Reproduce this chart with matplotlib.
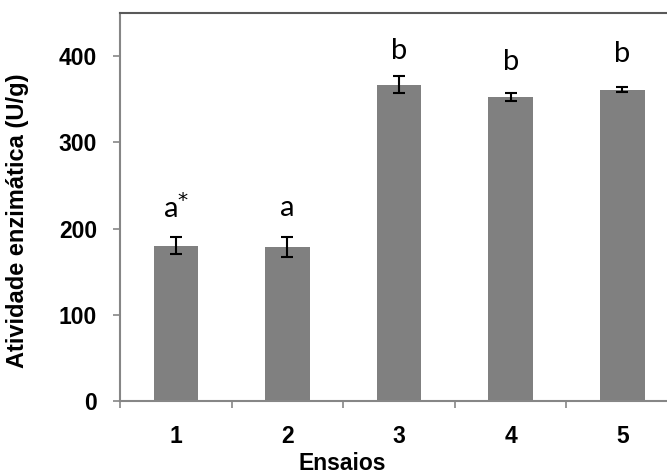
import numpy as np
import matplotlib
matplotlib.use("Agg")
import matplotlib.pyplot as plt
from matplotlib.ticker import FixedLocator

ensaios = ["1", "2", "3", "4", "5"]
atividade = [180, 178.5, 367, 353, 361]
erro = [10, 12, 10, 4.5, 3]
letras = ["a$^{*}$", "a", "b", "b", "b"]
letra_y = [224, 224, 406, 393, 402]

fig = plt.figure(figsize=(6.67, 4.74), dpi=100)
ax = fig.add_axes([0.18, 0.154, 0.8366, 0.8186])

x = np.arange(1, len(ensaios) + 1)
ax.bar(x, atividade, width=0.4, color="#808080", zorder=2)
ax.errorbar(x, atividade, yerr=erro, fmt="none", ecolor="black",
            elinewidth=1.5, capsize=4.3, capthick=1.5, zorder=3)

for xi, lab, yl in zip(x, letras, letra_y):
    ax.text(xi, yl, lab, ha="center", va="center", fontsize=21,
            family="Lato", color="black")

ax.set_xlim(0.5, 5.5)
ax.set_ylim(0, 450)

# ticks nas fronteiras das categorias, rótulos no centro
ax.xaxis.set_major_locator(FixedLocator(np.arange(0.5, 6.0, 1.0)))
ax.xaxis.set_major_formatter(plt.NullFormatter())
ax.xaxis.set_minor_locator(FixedLocator(x))
ax.set_xticklabels(ensaios, minor=True)
ax.tick_params(axis="x", which="minor", length=0, pad=17,
               labelsize=16.5)
ax.tick_params(axis="x", which="major", length=5, width=1.2,
               color="#868686", direction="out")
for t in ax.get_xticklabels(minor=True):
    t.set_fontweight("bold")
    t.set_family("Liberation Sans")

ax.set_yticks([0, 100, 200, 300, 400])
ax.tick_params(axis="y", length=5, width=1.2, color="#868686",
               direction="out", pad=11.5, labelsize=16.5)
for t in ax.get_yticklabels():
    t.set_fontweight("bold")
    t.set_family("Liberation Sans")

ax.set_xlabel("Ensaios", fontsize=16.5, fontweight="bold", family="Liberation Sans")
ax.set_ylabel("Atividade enzimática (U/g)", fontsize=17, fontweight="bold",
              family="Liberation Sans")
ax.xaxis.label.set_va("center")
ax.yaxis.label.set_va("center")
ax.xaxis.set_label_coords(0.398, -0.162)
ax.yaxis.set_label_coords(-0.1846, 0.464)

ax.spines["left"].set_color("#868686")
ax.spines["bottom"].set_color("#868686")
ax.spines["left"].set_linewidth(1.5)
ax.spines["bottom"].set_linewidth(1.5)
ax.spines["top"].set_color("#595959")
ax.spines["top"].set_linewidth(1.5)
ax.spines["right"].set_visible(False)

fig.savefig("out.png", dpi=100)
